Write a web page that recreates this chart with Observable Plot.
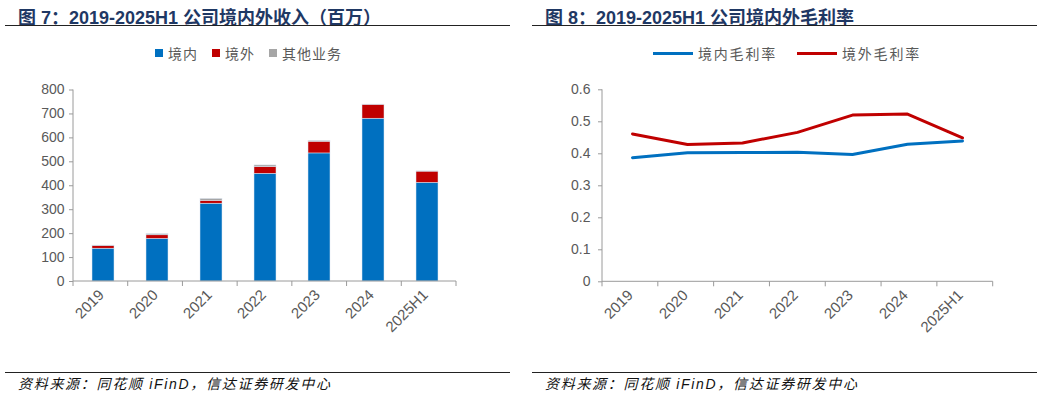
<!DOCTYPE html>
<html>
<head>
<meta charset="utf-8">
<script src="https://cdn.jsdelivr.net/npm/d3@7"></script>
<script src="https://cdn.jsdelivr.net/npm/@observablehq/plot@0.6"></script>
<style>
  html, body { margin: 0; padding: 0; background: #fff; }
  #page { position: relative; width: 1042px; height: 397px; overflow: hidden; font-family: "Liberation Sans", Arial, "Noto Sans CJK SC", sans-serif; }
  .title { position: absolute; top: 3px; font-size: 18px; font-weight: bold; color: #1f3864; white-space: nowrap; font-family: "Liberation Sans", Arial, "Noto Sans CJK SC", sans-serif; }
  .rule { position: absolute; height: 0; border-top: 1.5px solid #222; }
  .source { position: absolute; top: 373px; font-size: 14px; font-style: italic; color: #111; white-space: nowrap; letter-spacing: 1.7px; font-family: "Liberation Sans", Arial, "Noto Sans CJK SC", sans-serif; }
  .legend { position: absolute; top: 43px; display: flex; align-items: center; font-size: 14px; color: #595959; white-space: nowrap; font-family: "Noto Sans CJK SC", sans-serif; letter-spacing: 1px; }
  .legend .item { display: flex; align-items: center; margin-right: 14px; }
  .legend .sw { width: 8px; height: 8px; margin-right: 5px; }
  .legend .ln { width: 40px; height: 3px; margin-right: 5px; }
  .plotbox { position: absolute; top: 70px; }
  .plotbox svg { overflow: visible; }
</style>
</head>
<body>
<div id="page">
  <div class="title" style="left:18px">图 7：2019-2025H1 公司境内外收入（百万）</div>
  <div class="rule" style="left:5px; width:505px; top:25px"></div>
  <div class="title" style="left:545px">图 8：2019-2025H1 公司境内外毛利率</div>
  <div class="rule" style="left:532px; width:505px; top:25px"></div>
  <div class="legend" id="legendLeft" style="left:155px"></div>
  <div class="legend" id="legendRight" style="left:653px; letter-spacing: 1.8px"></div>
  <div class="plotbox" id="left" style="left:0px"></div>
  <div class="plotbox" id="right" style="left:520px"></div>
  <div class="rule" style="left:5px; width:505px; top:372px"></div>
  <div class="rule" style="left:532px; width:505px; top:372px"></div>
  <div class="source" style="left:18px">资料来源：同花顺 iFinD，信达证券研发中心</div>
  <div class="source" style="left:545px">资料来源：同花顺 iFinD，信达证券研发中心</div>
</div>
<script>
// ---- Data ----
const years = ["2019", "2020", "2021", "2022", "2023", "2024", "2025H1"];
const revenueSeries = ["境内", "境外", "其他业务"];
const domestic = [137, 178, 325, 450, 535, 680, 412];
const overseas = [11, 15, 12, 28, 49, 58, 47];
const other = [2, 5, 8, 7, 3, 1, 1];
const revenueTicks = [0, 100, 200, 300, 400, 500, 600, 700, 800];

const marginSeries = ["境内毛利率", "境外毛利率"];
const domesticMargin = [0.388, 0.403, 0.404, 0.405, 0.398, 0.430, 0.440];
const overseasMargin = [0.462, 0.429, 0.434, 0.467, 0.521, 0.524, 0.450];
const marginTicks = [0, 0.1, 0.2, 0.3, 0.4, 0.5, 0.6];

const barColors = ["#0070c0", "#c00000", "#a6a6a6"];
const lineColors = ["#0070c0", "#c00000"];
const axisColor = "#9a9a9a";
const textColor = "#595959";

// ---- Tables built from arrays ----
const revenueRows = [];
years.forEach((y, i) => {
  [domestic, overseas, other].forEach((arr, k) => {
    revenueRows.push({year: y, series: revenueSeries[k], value: arr[i]});
  });
});
const marginRows = [];
[domesticMargin, overseasMargin].forEach((arr, k) => {
  years.forEach((y, i) => marginRows.push({year: y, series: marginSeries[k], value: arr[i]}));
});

// custom mark: y-axis line, x-axis line, ticks at category boundaries
function axisFrame(n) {
  return (index, scales, values, dimensions) => {
    const {width, height, marginLeft, marginRight, marginTop, marginBottom} = dimensions;
    const x0 = marginLeft, x1 = width - marginRight, yb = height - marginBottom;
    const step = (x1 - x0) / n;
    const g = d3.create("svg:g").attr("stroke", axisColor).attr("stroke-width", 1).attr("fill", "none");
    g.append("line").attr("x1", x0).attr("x2", x0).attr("y1", marginTop).attr("y2", yb);
    g.append("line").attr("x1", x0).attr("x2", x1).attr("y1", yb).attr("y2", yb);
    for (let i = 0; i <= n; i++) {
      const xx = x0 + i * step;
      g.append("line").attr("x1", xx).attr("x2", xx).attr("y1", yb).attr("y2", yb + 5);
    }
    return g.node();
  };
}

const baseStyle = {fontFamily: "'Liberation Sans', Arial, sans-serif", fontSize: "14px", color: textColor, background: "transparent", overflow: "visible"};

// ---- Left: stacked bars ----
const leftPlot = Plot.plot({
  width: 520,
  height: 280,
  marginTop: 19.5,
  marginBottom: 69,
  marginLeft: 73,
  marginRight: 64,
  style: baseStyle,
  x: {domain: years, paddingInner: 0.6, paddingOuter: 0.3, label: null},
  y: {domain: [0, 800], label: null},
  color: {domain: revenueSeries, range: barColors},
  marks: [
    Plot.barY(revenueRows, {x: "year", y: "value", fill: "series", stroke: "#dfe8f3", strokeWidth: 0.5}),
    Plot.axisY({ticks: revenueTicks, tickSize: 4, tickPadding: 5, stroke: axisColor, fill: textColor, fontSize: 14, label: null}),
    Plot.axisX({tickSize: 0, tickRotate: -45, tickPadding: 11, dx: -2, fill: textColor, fontSize: 15, label: null}),
    axisFrame(years.length)
  ]
});
document.getElementById("left").appendChild(leftPlot);

// ---- Right: lines ----
const rightPlot = Plot.plot({
  width: 522,
  height: 280,
  marginTop: 19.3,
  marginBottom: 68.7,
  marginLeft: 82,
  marginRight: 49.3,
  style: baseStyle,
  x: {domain: years, paddingInner: 0, paddingOuter: 0, label: null},
  y: {domain: [0, 0.6], label: null},
  color: {domain: marginSeries, range: lineColors},
  marks: [
    Plot.line(marginRows, {x: "year", y: "value", stroke: "series", strokeWidth: 3}),
    Plot.axisY({ticks: marginTicks, tickSize: 4, tickPadding: 8, stroke: axisColor, fill: textColor, fontSize: 14, tickFormat: d => String(d), label: null}),
    Plot.axisX({tickSize: 0, tickRotate: -45, tickPadding: 11, dx: -2, fill: textColor, fontSize: 15, label: null}),
    axisFrame(years.length)
  ]
});
document.getElementById("right").appendChild(rightPlot);

// ---- Legends (HTML) ----
const ll = d3.select("#legendLeft");
revenueSeries.forEach((s, i) => {
  const it = ll.append("div").attr("class", "item");
  it.append("div").attr("class", "sw").style("background", barColors[i]);
  it.append("span").text(s);
});
const lr = d3.select("#legendRight");
marginSeries.forEach((s, i) => {
  const it = lr.append("div").attr("class", "item").style("margin-right", "20px");
  it.append("div").attr("class", "ln").style("background", lineColors[i]);
  it.append("span").text(s);
});
</script>
</body>
</html>
